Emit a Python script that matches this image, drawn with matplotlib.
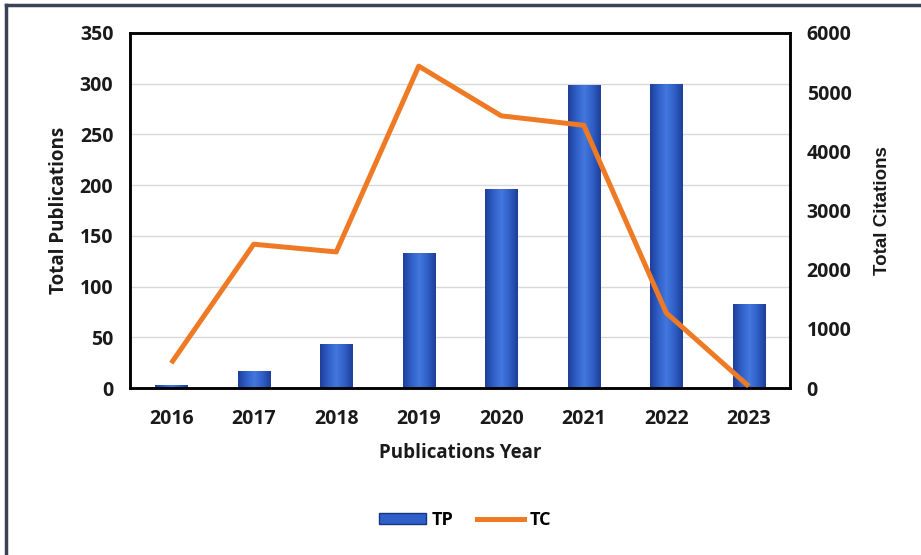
"""Total publications (bars) and total citations (line) per year."""
import numpy as np
import matplotlib
matplotlib.use("Agg")
import matplotlib.pyplot as plt
from matplotlib.patches import Patch
from matplotlib.lines import Line2D
from matplotlib.colors import LinearSegmentedColormap

years = ["2016", "2017", "2018", "2019", "2020", "2021", "2022", "2023"]
tp = [3, 17, 43, 133, 196, 299, 300, 83]
tc = [420, 2430, 2300, 5440, 4600, 4440, 1270, 30]

plt.rcParams["font.family"] = ["Open Sans", "DejaVu Sans"]
plt.rcParams["font.weight"] = "bold"
plt.rcParams["axes.labelweight"] = "bold"

BAR_CMAP = LinearSegmentedColormap.from_list(
    "bar", ["#1f3f98", "#2f5fc8", "#4378dc", "#2f5fc8", "#1f3f98"])
ORANGE = "#ef7a25"
TXT = "#1a1a1a"

fig = plt.figure(figsize=(9.21, 5.55), dpi=100)
ax = fig.add_axes([130 / 921, 1 - 388 / 555, 660 / 921, 355 / 555])
ax2 = ax.twinx()

x = np.arange(len(years))
bars = ax.bar(x, tp, width=0.39, color="#2f5fc8", edgecolor="#1a3580",
              linewidth=0.6, zorder=2)
grad = np.linspace(0, 1, 64).reshape(1, -1)
for b in bars:
    x0, w, h = b.get_x(), b.get_width(), b.get_height()
    im = ax.imshow(grad, cmap=BAR_CMAP, aspect="auto", zorder=2.5,
                   extent=[x0, x0 + w, 0, h], interpolation="bicubic")
    im.set_clip_path(b)

ax2.plot(x, tc, color=ORANGE, linewidth=3.6, solid_capstyle="butt", zorder=3)

ax.set_xlim(-0.5, len(years) - 0.5)
ax.set_ylim(0, 350)
ax.set_yticks(range(0, 351, 50))
ax2.set_ylim(0, 6000)
ax2.set_yticks(range(0, 6001, 1000))
ax.set_xticks(x)
ax.set_xticklabels(years)

ax.grid(axis="y", color="#d9d9d9", linewidth=1, zorder=0)
ax.set_axisbelow(True)
for a in (ax, ax2):
    a.tick_params(length=0, labelsize=14, colors=TXT)
    for s in a.spines.values():
        s.set_linewidth(1.8)
        s.set_color("black")
ax.tick_params(axis="y", pad=12)
ax.tick_params(axis="x", pad=15)
ax2.tick_params(axis="y", pad=12)

ax.set_ylabel("Total Publications", fontsize=13.5, labelpad=8, color=TXT)
ax2.set_ylabel("Total Citations", fontsize=13.5, labelpad=16, color=TXT,
               family=["Liberation Sans", "DejaVu Sans"])
ax.set_xlabel("Publications Year", fontsize=13.5, labelpad=10, color=TXT)

handles = [Patch(facecolor="#2f5fc8", edgecolor="#1a3580"),
           Line2D([], [], color=ORANGE, linewidth=3.6)]
fig.legend(handles, ["TP", "TC"], loc="center", ncol=2,
           bbox_to_anchor=(465 / 921, 1 - 520 / 555), frameon=False,
           fontsize=13, handlelength=2.6, handleheight=0.5, columnspacing=1.3,
           handletextpad=0.3)

# outer frame (only top and left edges are visible in the crop)
fig.add_artist(Line2D([6 / 921, 6 / 921], [0, 1 - 5 / 555],
                      transform=fig.transFigure, color="#3b4256", linewidth=2.5))
fig.add_artist(Line2D([6 / 921, 1], [1 - 5 / 555, 1 - 5 / 555],
                      transform=fig.transFigure, color="#3b4256", linewidth=2.5))

fig.savefig("out.png", dpi=100)
